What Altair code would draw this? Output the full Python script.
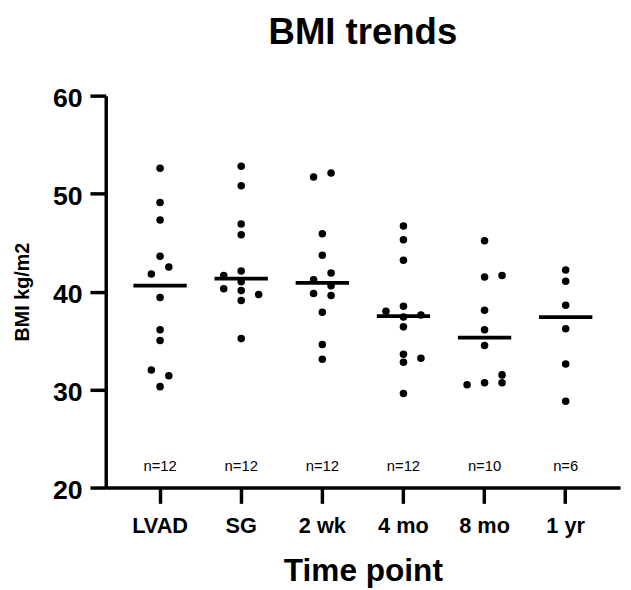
import altair as alt
import pandas as pd

time_points = ["LVAD", "SG", "2 wk", "4 mo", "8 mo", "1 yr"]

bmi_lvad = [52.6, 49.1, 47.3, 43.6, 42.5, 41.8, 39.4, 36.1, 35.0, 32.0, 31.4, 30.3]
lane_lvad = [0, 0, 0, 0, 1, -1, 0, 0, 0, -1, 1, 0]

bmi_sg = [52.8, 50.8, 46.9, 45.8, 42.1, 41.65, 41.0, 40.3, 40.1, 39.7, 39.1, 35.2]
lane_sg = [0, 0, 0, 0, 0, -2, 0, -2, 0, 2, 0, 0]

bmi_2wk = [52.1, 51.7, 45.9, 43.7, 41.9, 41.2, 40.6, 39.8, 39.6, 37.9, 34.6, 33.1]
lane_2wk = [1, -1, 0, 0, 1, -1, 1, -1, 1, 0, 0, 0]

bmi_4mo = [46.7, 45.3, 43.2, 38.5, 38.0, 37.6, 37.4, 36.4, 33.6, 33.2, 32.8, 29.6]
lane_4mo = [0, 0, 0, 0, -2, 2, 0, 0, 0, 2, 0, 0]

bmi_8mo = [45.2, 41.65, 41.5, 38.1, 36.1, 34.5, 31.5, 30.7, 30.7, 30.5]
lane_8mo = [0, 2, 0, 0, 0, 0, 2, 2, 0, -2]

bmi_1yr = [42.2, 41.05, 38.6, 36.2, 32.6, 28.8]
lane_1yr = [0, 0, 0, 0, 0, 0]

lane_domain = [-4, -3, -2, -1, 0, 1, 2, 3, 4]

series = [
    (bmi_lvad, lane_lvad),
    (bmi_sg, lane_sg),
    (bmi_2wk, lane_2wk),
    (bmi_4mo, lane_4mo),
    (bmi_8mo, lane_8mo),
    (bmi_1yr, lane_1yr),
]

rows = []
for tp, (vals, lanes) in zip(time_points, series):
    for v, ln in zip(vals, lanes):
        rows.append({"time": tp, "bmi": v, "lane": ln})
df = pd.DataFrame(rows)

FONT = "Liberation Sans"

x_enc = alt.X(
    "time:N",
    sort=time_points,
    scale=alt.Scale(paddingInner=0, paddingOuter=0.17),
    axis=alt.Axis(
        title="Time point",
        titleFontSize=32,
        titleFontWeight="bold",
        titleBaseline="alphabetic",
        titleY=94,
        labelFontSize=22,
        labelFontWeight="bold",
        labelAngle=0,
        labelBaseline="alphabetic",
        labelPadding=30,
        tickSize=16,
        tickWidth=3.5,
        domainWidth=3.5,
        domainColor="black",
        tickColor="black",
        labelColor="black",
        titleColor="black",
    ),
)

y_scale = alt.Scale(domain=[20, 60], nice=False, zero=False)

points = alt.Chart(df).mark_circle(size=58, opacity=1, color="black").encode(
    x=x_enc,
    xOffset=alt.XOffset(
        "lane:O",
        scale=alt.Scale(domain=lane_domain, paddingInner=0, paddingOuter=0.64),
    ),
    y=alt.Y(
        "bmi:Q",
        scale=y_scale,
        axis=alt.Axis(
            title="BMI kg/m2",
            titleFontSize=20,
            titleFontWeight="bold",
            titleX=-74,
            values=[20, 30, 40, 50, 60],
            labelFontSize=27,
            labelFontWeight="bold",
            labelPadding=8,
            labelOffset=3,
            tickSize=16,
            tickWidth=3.5,
            domainWidth=3.5,
            domainColor="black",
            tickColor="black",
            labelColor="black",
            titleColor="black",
            grid=False,
        ),
    ),
)

medians = alt.Chart(df).mark_tick(color="black", size=54, thickness=3.8).encode(
    x=alt.X("time:N", sort=time_points),
    y=alt.Y("median(bmi):Q", scale=y_scale),
)

counts = (
    alt.Chart(df)
    .transform_aggregate(n="count()", groupby=["time"])
    .transform_calculate(label="'n=' + datum.n")
    .mark_text(fontSize=15, color="black", baseline="middle", font=FONT)
    .encode(
        x=alt.X("time:N", sort=time_points),
        y=alt.datum(22.2, scale=y_scale),
        text="label:N",
    )
)

chart = (
    alt.layer(points, medians, counts)
    .properties(
        width=521,
        height=397,
        title=alt.TitleParams(
            "BMI trends", fontSize=37, fontWeight="bold", anchor="middle", color="black", offset=33
        ),
        autosize=alt.AutoSizeParams(type="none"),
        padding={"left": 99, "top": 85, "right": 3, "bottom": 100},
    )
    .configure(font=FONT)
    .configure_view(stroke=None)
    .configure_axis(grid=False)
)

chart.save("out.html", embed_options={"renderer": "svg", "actions": False})
